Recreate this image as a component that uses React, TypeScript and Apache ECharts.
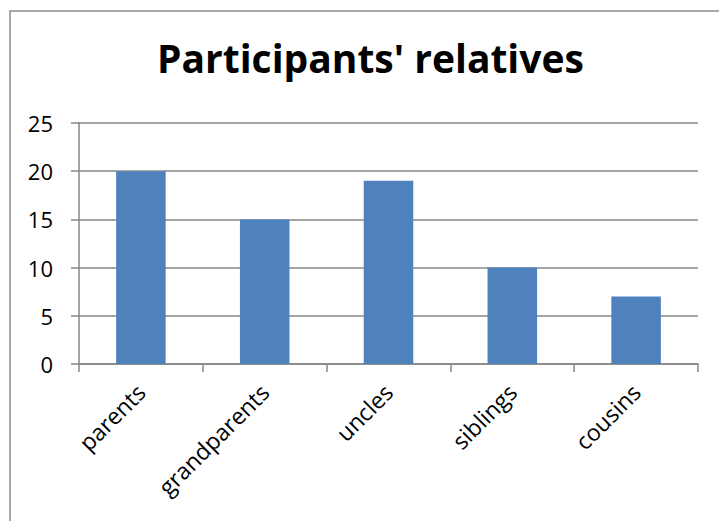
import React, { useEffect, useRef } from "react";
import * as echarts from "echarts";

const categories = ["parents", "grandparents", "uncles", "siblings", "cousins"];
const counts = [20, 15, 19, 10, 7];
const yTicks = { min: 0, max: 25, interval: 5 };
const titleText = "Participants' relatives";

const FONT = "'Open Sans', 'Noto Sans', sans-serif";
const GRID_GRAY = "#878787";

export default function App() {
  const ref = useRef<HTMLDivElement>(null);

  useEffect(() => {
    if (!ref.current) return;
    const chart = echarts.init(ref.current, undefined, { renderer: "svg" });
    chart.setOption({
      animation: false,
      backgroundColor: "#ffffff",
      title: {
        text: titleText,
        left: 152,
        top: 33,
        textStyle: { fontFamily: FONT, fontSize: 39, fontWeight: "bold", color: "#000" },
      },
      graphic: [
        {
          type: "rect",
          shape: { x: 10, y: 11, width: 1200, height: 1200 },
          style: { fill: "none", stroke: "#8c8c8c", lineWidth: 1.5 },
          silent: true,
        },
      ],
      grid: { left: 79, right: 21, top: 123, bottom: 157, containLabel: false },
      xAxis: {
        type: "category",
        data: categories,
        axisLine: { show: true, lineStyle: { color: GRID_GRAY, width: 1.5 } },
        axisTick: { show: true, length: 8, lineStyle: { color: GRID_GRAY, width: 1.5 } },
        axisLabel: {
          rotate: 45,
          margin: 24,
          fontFamily: FONT,
          fontSize: 23,
          color: "#000",
        },
      },
      yAxis: {
        type: "value",
        min: yTicks.min,
        max: yTicks.max,
        interval: yTicks.interval,
        axisLine: { show: true, lineStyle: { color: GRID_GRAY, width: 1.5 } },
        axisTick: { show: true, length: 8, lineStyle: { color: GRID_GRAY, width: 1.5 } },
        splitLine: { show: true, lineStyle: { color: GRID_GRAY, width: 1.5 } },
        axisLabel: { margin: 26, fontFamily: FONT, fontSize: 22, color: "#000" },
      },
      series: [
        {
          type: "bar",
          data: counts,
          barWidth: "40%",
          itemStyle: { color: "#4f81bd" },
        },
      ],
    });
    return () => chart.dispose();
  }, []);

  return (
    <div
      ref={ref}
      style={{ position: "fixed", left: 0, top: 0, width: 719, height: 521 }}
    />
  );
}
